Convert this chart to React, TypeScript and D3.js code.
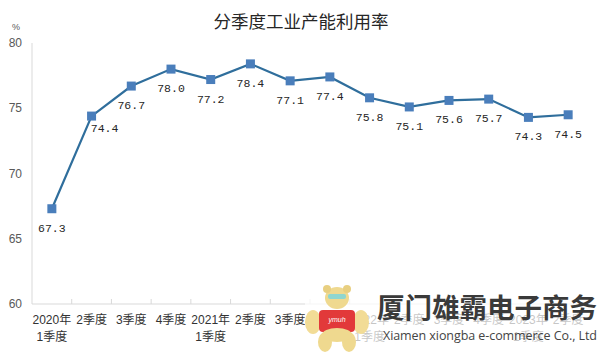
import React, { useEffect, useRef } from 'react'
import * as d3 from 'd3'

// quarterly industrial capacity utilisation, %
const quarters = ['2020年|1季度', '2季度', '3季度', '4季度', '2021年|1季度', '2季度', '3季度', '4季度',
    '2022年|1季度', '2季度', '3季度', '4季度', '2023年|1季度', '2季度']
const utilisation = [67.3, 74.4, 76.7, 78.0, 77.2, 78.4, 77.1, 77.4, 75.8, 75.1, 75.6, 75.7, 74.3, 74.5]
const yTicks = [60, 65, 70, 75, 80]

const W = 600
const H = 353
const CJK = '"Liberation Sans", "Noto Sans CJK SC", sans-serif'

function App() {
    const ref = useRef<SVGSVGElement | null>(null)

    useEffect(() => {
        const svg = d3.select(ref.current)
        svg.selectAll('*').remove()

        const margin = { left: 32, right: 12, top: 43, bottom: 49 }
        const x = d3.scaleBand<number>()
            .domain(d3.range(quarters.length))
            .range([margin.left, W - margin.right])
        const y = d3.scaleLinear().domain([60, 80]).range([H - margin.bottom, margin.top])
        const cx = (i: number) => (x(i) || 0) + x.bandwidth() / 2

        svg.append('rect').attr('width', W).attr('height', H).attr('fill', '#fff')

        // title
        svg.append('text')
            .attr('x', 301).attr('y', 28)
            .attr('text-anchor', 'middle')
            .attr('font-family', '"Noto Sans CJK SC", sans-serif')
            .attr('font-size', 17.5)
            .attr('fill', '#262626')
            .text('分季度工业产能利用率')

        // axes
        const axisColor = '#d9d9d9'
        svg.append('line')
            .attr('x1', margin.left).attr('x2', margin.left)
            .attr('y1', y(80)).attr('y2', y(60))
            .attr('stroke', axisColor)
        svg.append('line')
            .attr('x1', margin.left).attr('x2', W - margin.right)
            .attr('y1', y(60)).attr('y2', y(60))
            .attr('stroke', axisColor)

        svg.append('g')
            .selectAll('line')
            .data(d3.range(1, quarters.length))
            .join('line')
            .attr('x1', d => x(d) || 0).attr('x2', d => x(d) || 0)
            .attr('y1', y(60)).attr('y2', y(60) - 5)
            .attr('stroke', axisColor)

        svg.append('g')
            .selectAll('text')
            .data(yTicks)
            .join('text')
            .attr('x', 22).attr('y', d => y(d) + 4)
            .attr('text-anchor', 'end')
            .attr('font-family', '"Liberation Sans", Arial, sans-serif')
            .attr('font-size', 12)
            .attr('fill', '#595959')
            .text(d => d)

        svg.append('text')
            .attr('x', 16).attr('y', 30)
            .attr('text-anchor', 'middle')
            .attr('font-family', '"Liberation Sans", Arial, sans-serif')
            .attr('font-size', 9)
            .attr('fill', '#595959')
            .text('%')

        // x labels
        const xl = svg.append('g')
            .selectAll('text')
            .data(quarters)
            .join('text')
            .attr('text-anchor', 'middle')
            .attr('font-family', CJK)
            .attr('font-size', 12)
            .attr('fill', '#333')
        xl.each(function (d, i) {
            const parts = d.split('|')
            const t = d3.select(this)
            parts.forEach((p, k) => {
                t.append('tspan').attr('x', cx(i)).attr('y', y(60) + 20 + k * 17).text(p)
            })
        })

        // series
        const line = d3.line<number>()
            .x((_, i) => cx(i))
            .y(d => y(d))
        svg.append('path')
            .datum(utilisation)
            .attr('d', line)
            .attr('fill', 'none')
            .attr('stroke', '#2f6e9c')
            .attr('stroke-width', 2.2)

        svg.append('g')
            .selectAll('rect')
            .data(utilisation)
            .join('rect')
            .attr('x', (_, i) => cx(i) - 4.5)
            .attr('y', d => y(d) - 4.5)
            .attr('width', 9).attr('height', 9)
            .attr('fill', '#4a7ebb')

        svg.append('g')
            .selectAll('text')
            .data(utilisation)
            .join('text')
            .attr('x', (_, i) => cx(i) + (i === 1 ? 13 : 0))
            .attr('y', (d, i) => y(d) + (i === 1 ? 16 : 23))
            .attr('text-anchor', 'middle')
            .attr('font-family', '"Liberation Mono", monospace')
            .attr('font-size', 11.5)
            .attr('fill', '#262626')
            .text(d => d.toFixed(1))

        // watermark
        svg.append('rect')
            .attr('x', 305).attr('y', 288).attr('width', W - 305).attr('height', H - 288)
            .attr('fill', '#fff').attr('opacity', 0.72)

        const bear = svg.append('g').attr('transform', 'translate(337,318)')
        bear.append('ellipse').attr('cx', -12).attr('cy', 24).attr('rx', 7).attr('ry', 10).attr('fill', '#efd98f')
        bear.append('ellipse').attr('cx', 12).attr('cy', 24).attr('rx', 7).attr('ry', 10).attr('fill', '#efd98f')
        bear.append('ellipse').attr('cx', -24).attr('cy', 4).attr('rx', 8).attr('ry', 12).attr('fill', '#f2dc96')
        bear.append('ellipse').attr('cx', 24).attr('cy', 4).attr('rx', 8).attr('ry', 12).attr('fill', '#f2dc96')
        bear.append('rect').attr('x', -18).attr('y', -8).attr('width', 36).attr('height', 22).attr('rx', 4).attr('fill', '#e2393a')
        bear.append('ellipse').attr('cx', 0).attr('cy', 17).attr('rx', 15).attr('ry', 7).attr('fill', '#efd98f')
        bear.append('ellipse').attr('cx', 0).attr('cy', -20).attr('rx', 12).attr('ry', 11).attr('fill', '#efd98f')
        bear.append('circle').attr('cx', -10).attr('cy', -29).attr('r', 4).attr('fill', '#e8cf80')
        bear.append('circle').attr('cx', 10).attr('cy', -29).attr('r', 4).attr('fill', '#e8cf80')
        bear.append('rect').attr('x', -9).attr('y', -24).attr('width', 18).attr('height', 5).attr('rx', 2).attr('fill', '#8fd6cf')
        bear.append('text').attr('x', 0).attr('y', 4).attr('text-anchor', 'middle')
            .attr('font-family', '"Liberation Sans", sans-serif').attr('font-size', 7)
            .attr('font-style', 'italic').attr('fill', '#fff').text('ymuh')

        svg.append('text')
            .attr('x', 377).attr('y', 318)
            .attr('font-family', '"Noto Sans CJK SC", sans-serif')
            .attr('font-weight', 700)
            .attr('font-size', 27.5)
            .attr('fill', '#3a3a3a')
            .text('厦门雄霸电子商务')

        svg.append('text')
            .attr('x', 383).attr('y', 340)
            .attr('font-family', '"Open Sans", "Noto Sans", sans-serif')
            .attr('font-size', 12.5)
            .attr('fill', '#444')
            .attr('textLength', 214)
            .text('Xiamen xiongba e-commerce Co., Ltd')
    }, [])

    return (
        <svg ref={ref} width={W} height={H}
            style={{ position: 'absolute', left: 0, top: 0, display: 'block' }} />
    )
}

export default App
